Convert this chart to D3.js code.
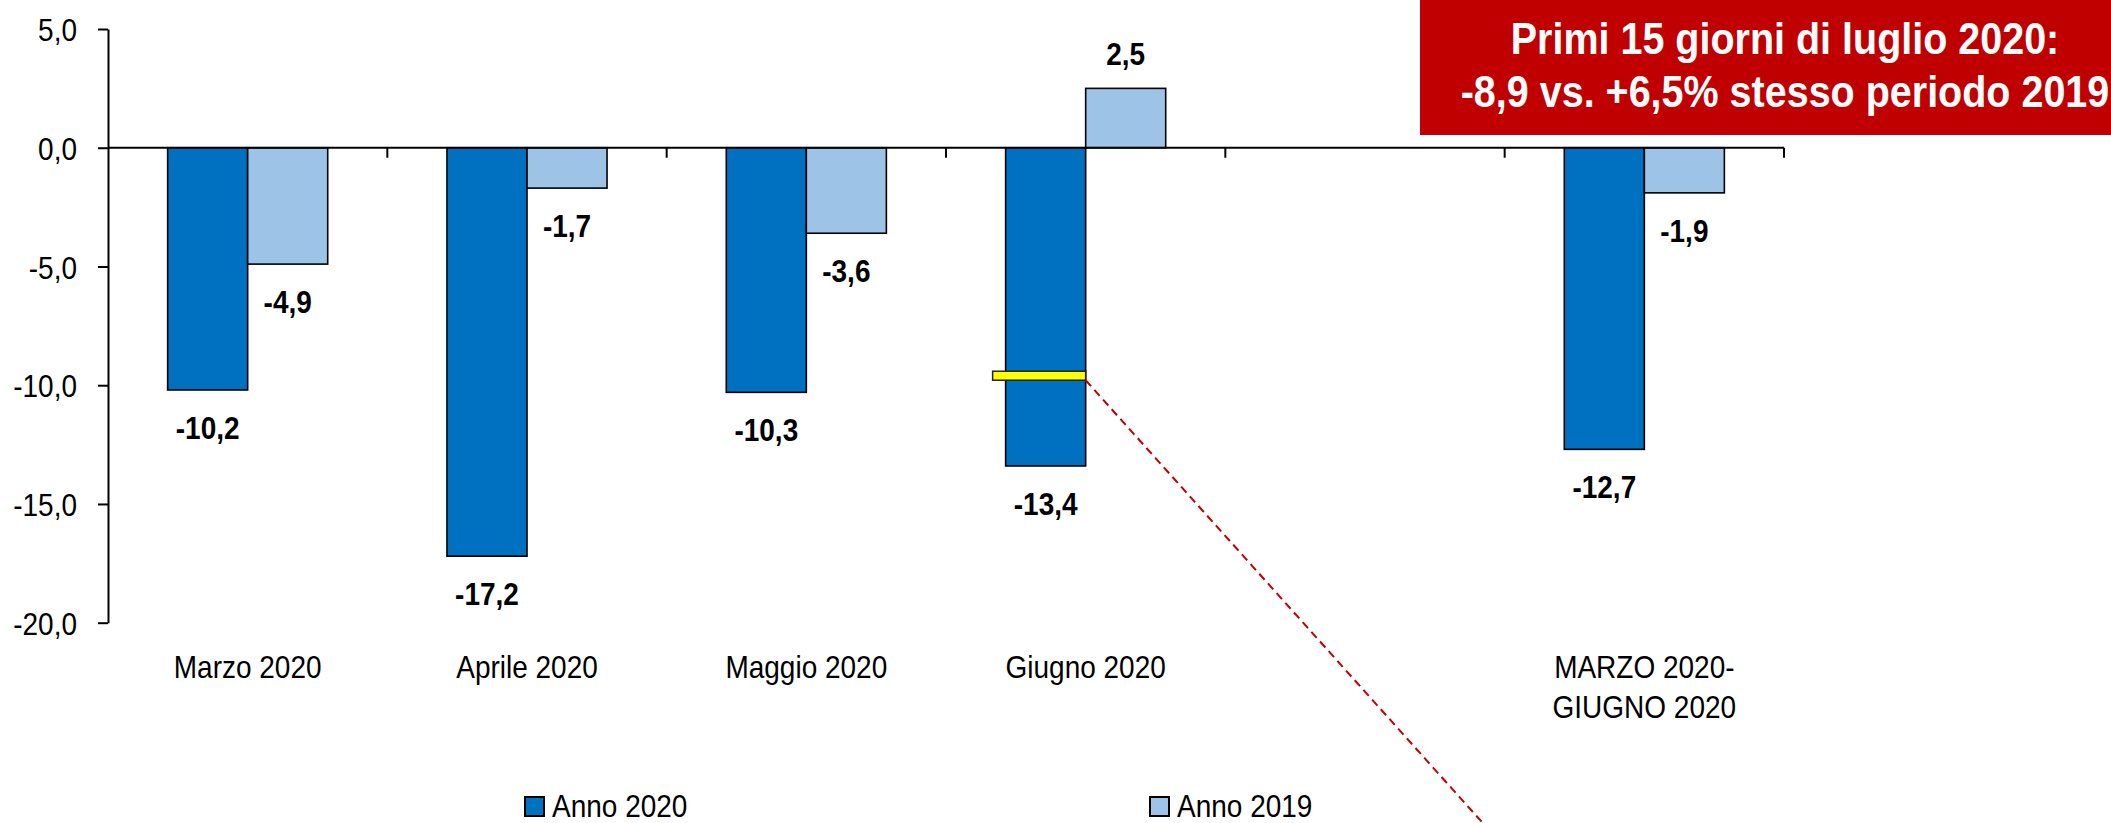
<!DOCTYPE html>
<html>
<head>
<meta charset="utf-8">
<script src="https://cdn.jsdelivr.net/npm/d3@7"></script>
<style>
  body { margin: 0; background: #fff; }
  svg { display: block; }
  text { font-family: "Liberation Sans", Arial, sans-serif; fill: #000; }
</style>
</head>
<body>
<div id="chart"></div>
<script>
// data
var categories = ["Marzo 2020", "Aprile 2020", "Maggio 2020", "Giugno 2020", "", "MARZO 2020-|GIUGNO 2020"];
var anno2020 = [-10.2, -17.2, -10.3, -13.4, null, -12.7];
var anno2019 = [-4.9, -1.7, -3.6, 2.5, null, -1.9];
var series = ["Anno 2020", "Anno 2019"];
var yTicks = [5, 0, -5, -10, -15, -20];
var julyMarker = -9.6;   // yellow marker on Giugno 2020
var titleLines = ["Primi 15 giorni di luglio 2020:", "-8,9 vs. +6,5% stesso periodo 2019"];

var colors = {"Anno 2020": "#0070C0", "Anno 2019": "#9DC3E6"};
var SY = 1.15; // text in the source is a bit stretched vertically

var width = 2111, height = 823;
var svg = d3.select("#chart").append("svg")
	.attr("width", width)
	.attr("height", height);

var it = d3.formatLocale({decimal: ",", thousands: ".", grouping: [3], currency: ["", "€"], minus: "-"});
var fmt = it.format(".1f");

var x0 = d3.scaleBand()
	.domain(d3.range(categories.length))
	.range([108, 1784])
	.padding(0);

var x1 = d3.scaleBand()
	.domain(series)
	.range([0, x0.bandwidth()])
	.paddingInner(0)
	.paddingOuter(0.745);

var y = d3.scaleLinear()
	.domain([-20, 5])
	.range([622.7, 29]);

function addText(parent, x, yy, str, size, weight, anchor, sy) {
	return parent.append("text")
		.attr("transform", "translate(" + x + "," + yy + ") scale(1," + (sy || SY) + ")")
		.attr("text-anchor", anchor || "middle")
		.style("font-size", size + "px")
		.style("font-weight", weight || "normal")
		.text(str);
}

// y axis
var yAxis = svg.append("g")
	.attr("transform", "translate(" + x0.range()[0] + ",0)")
	.call(d3.axisLeft(y).tickValues(yTicks).tickFormat(fmt).tickSize(10).tickPadding(21).tickSizeOuter(0));
yAxis.select(".domain").attr("stroke", "#000").attr("stroke-width", 2);
yAxis.selectAll(".tick line").attr("stroke", "#000").attr("stroke-width", 2);
yAxis.selectAll(".tick text")
	.style("font-size", "28px")
	.style("font-family", "'Liberation Sans', Arial, sans-serif")
	.attr("dy", "0.36em")
	.attr("transform", "scale(1," + SY + ")");

// bars
var rows = categories.map(function (c, i) {
	return {i: i, values: [{key: "Anno 2020", v: anno2020[i]}, {key: "Anno 2019", v: anno2019[i]}]};
});

var groups = svg.selectAll("g.cat")
	.data(rows)
	.enter()
	.append("g")
	.attr("class", "cat")
	.attr("transform", function (d) { return "translate(" + x0(d.i) + ",0)"; });

groups.selectAll("rect")
	.data(function (d) { return d.values.filter(function (e) { return e.v !== null; }); })
	.enter()
	.append("rect")
	.attr("x", function (d) { return x1(d.key); })
	.attr("y", function (d) { return y(Math.max(0, d.v)); })
	.attr("width", x1.bandwidth())
	.attr("height", function (d) { return Math.abs(y(d.v) - y(0)); })
	.attr("fill", function (d) { return colors[d.key]; })
	.attr("stroke", "#000")
	.attr("stroke-width", 1.6);

// zero line with category boundary ticks
var base = svg.append("g");
base.append("line")
	.attr("x1", x0.range()[0])
	.attr("x2", x0.range()[1])
	.attr("y1", y(0))
	.attr("y2", y(0))
	.attr("stroke", "#000")
	.attr("stroke-width", 2);
base.selectAll("line.tk")
	.data(d3.range(categories.length))
	.enter()
	.append("line")
	.attr("class", "tk")
	.attr("x1", function (i) { return x0(i) + x0.bandwidth(); })
	.attr("x2", function (i) { return x0(i) + x0.bandwidth(); })
	.attr("y1", y(0))
	.attr("y2", y(0) + 10)
	.attr("stroke", "#000")
	.attr("stroke-width", 2);

// value labels
rows.forEach(function (r) {
	r.values.forEach(function (d) {
		if (d.v === null) return;
		var cx = x0(r.i) + x1(d.key) + x1.bandwidth() / 2;
		var ly = d.v < 0 ? y(d.v) + 49 : y(d.v) - 23;
		addText(svg, cx, ly, fmt(d.v), 28, "bold");
	});
});

// category labels
categories.forEach(function (c, i) {
	if (!c) return;
	var cx = x0(i) + x0.bandwidth() / 2;
	c.split("|").forEach(function (line, k) {
		addText(svg, cx, y(-20) + 55 + k * 40, line, 28);
	});
});

// yellow marker on Giugno 2020 plus dashed pointer
var gx = x0(3) + x1("Anno 2020");
svg.append("rect")
	.attr("x", gx - 13)
	.attr("y", y(julyMarker) - 4.5)
	.attr("width", x1.bandwidth() + 13)
	.attr("height", 9)
	.attr("fill", "#FFFF00")
	.attr("stroke", "#222")
	.attr("stroke-width", 1.5);

var px = gx + x1.bandwidth(), py = y(julyMarker) + 4.5;
svg.append("line")
	.attr("x1", px)
	.attr("y1", py)
	.attr("x2", px + (900 - py) / 1.115)
	.attr("y2", 900)
	.attr("stroke", "#C00000")
	.attr("stroke-width", 2)
	.attr("stroke-dasharray", "8,5");

// legend
var legendPos = [{key: "Anno 2020", x: 525}, {key: "Anno 2019", x: 1150}];
legendPos.forEach(function (l) {
	svg.append("rect")
		.attr("x", l.x)
		.attr("y", 797)
		.attr("width", 19)
		.attr("height", 19)
		.attr("fill", colors[l.key])
		.attr("stroke", "#000")
		.attr("stroke-width", 2);
	addText(svg, l.x + 27, 817, l.key, 28, "normal", "start");
});

// red note box (cropped at the right edge in the source)
svg.append("rect")
	.attr("x", 1420)
	.attr("y", 0)
	.attr("width", width - 1420)
	.attr("height", 135)
	.attr("fill", "#C00000");
titleLines.forEach(function (t, k) {
	addText(svg, 1785, 53.5 + k * 53.4, t, 39.5, "bold", "middle", 1.12)
		.style("fill", "#fff");
});
</script>
</body>
</html>
